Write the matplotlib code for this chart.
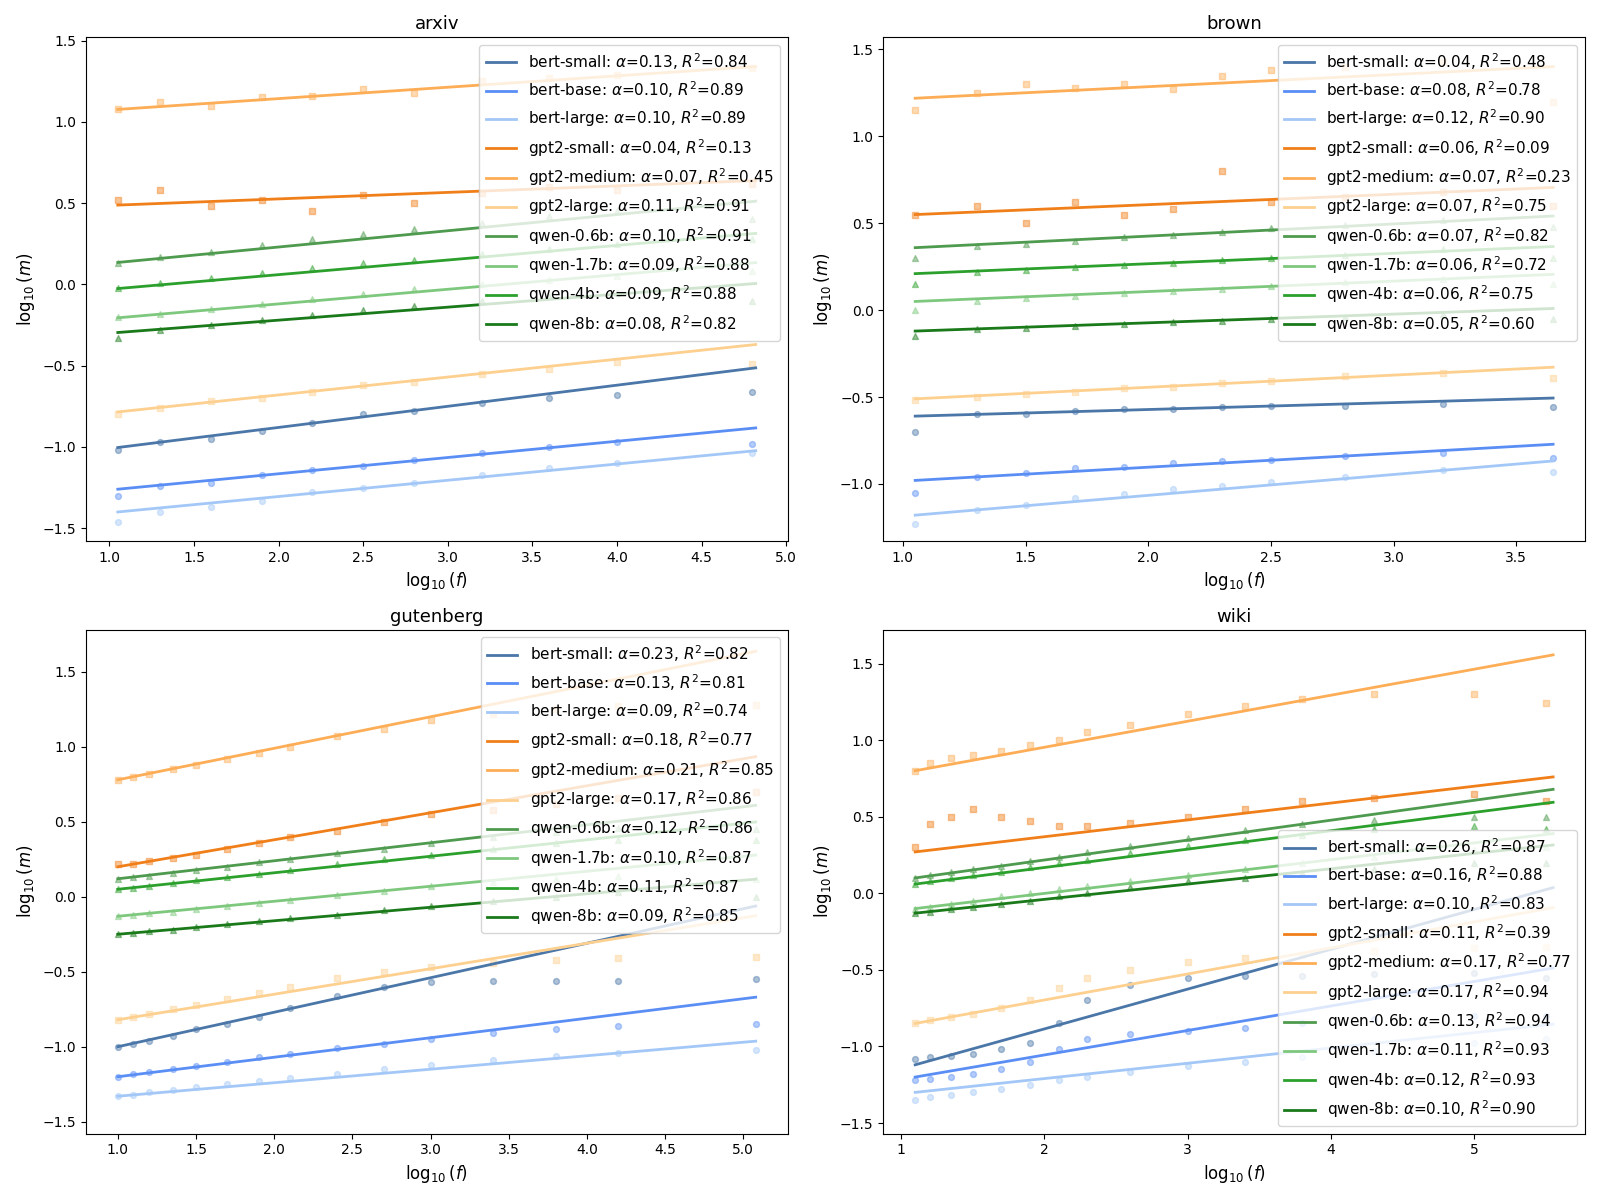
import numpy as np
import matplotlib.pyplot as plt

models = ["bert-small", "bert-base", "bert-large", "gpt2-small", "gpt2-medium",
          "gpt2-large", "qwen-0.6b", "qwen-1.7b", "qwen-4b", "qwen-8b"]
colors = ["#4a76a8", "#5a8ef5", "#a3c8f7", "#f07f1a", "#fdad56",
          "#fdd08f", "#4e9a4e", "#7ec87e", "#2ca02c", "#1a7a1a"]
markers = ["o"] * 3 + ["s"] * 3 + ["^"] * 4

# ---- arxiv
arxiv_x = [1.05, 1.3, 1.6, 1.9, 2.2, 2.5, 2.8, 3.2, 3.6, 4.0, 4.8]
arxiv_y = [
    [-1.02, -0.97, -0.95, -0.90, -0.85, -0.80, -0.78, -0.73, -0.70, -0.68, -0.66],
    [-1.30, -1.24, -1.22, -1.17, -1.14, -1.12, -1.08, -1.04, -1.00, -0.97, -0.98],
    [-1.46, -1.40, -1.37, -1.33, -1.28, -1.25, -1.22, -1.17, -1.13, -1.10, -1.04],
    [0.52, 0.58, 0.48, 0.52, 0.45, 0.55, 0.50, 0.56, 0.60, 0.58, 0.62],
    [1.08, 1.12, 1.10, 1.15, 1.16, 1.20, 1.18, 1.25, 1.27, 1.29, 1.33],
    [-0.80, -0.76, -0.72, -0.70, -0.66, -0.62, -0.60, -0.55, -0.52, -0.48, -0.49],
    [0.13, 0.17, 0.20, 0.24, 0.28, 0.31, 0.34, 0.38, 0.42, 0.45, 0.40],
    [-0.20, -0.18, -0.15, -0.12, -0.09, -0.06, -0.03, 0.00, 0.03, 0.05, 0.08],
    [-0.02, 0.01, 0.04, 0.07, 0.10, 0.13, 0.15, 0.19, 0.22, 0.25, 0.28],
    [-0.33, -0.28, -0.25, -0.22, -0.19, -0.16, -0.13, -0.10, -0.07, -0.05, -0.10],
]
arxiv_alpha = [0.13, 0.10, 0.10, 0.04, 0.07, 0.11, 0.10, 0.09, 0.09, 0.08]
arxiv_r2 = [0.84, 0.89, 0.89, 0.13, 0.45, 0.91, 0.91, 0.88, 0.88, 0.82]
arxiv_b = [-1.14, -1.365, -1.505, 0.446, 1.003, -0.90, 0.03, -0.30, -0.12, -0.38]
arxiv_range = [1.05, 4.82]

# ---- brown
brown_x = [1.05, 1.3, 1.5, 1.7, 1.9, 2.1, 2.3, 2.5, 2.8, 3.2, 3.65]
brown_y = [
    [-0.70, -0.60, -0.60, -0.58, -0.57, -0.57, -0.56, -0.55, -0.55, -0.54, -0.56],
    [-1.05, -0.96, -0.94, -0.91, -0.90, -0.88, -0.87, -0.86, -0.84, -0.82, -0.85],
    [-1.23, -1.15, -1.12, -1.08, -1.06, -1.03, -1.01, -0.99, -0.96, -0.92, -0.93],
    [0.55, 0.60, 0.50, 0.62, 0.55, 0.58, 0.80, 0.62, 0.65, 0.68, 0.60],
    [1.15, 1.25, 1.30, 1.28, 1.30, 1.27, 1.35, 1.38, 1.40, 1.43, 1.20],
    [-0.52, -0.50, -0.48, -0.47, -0.45, -0.44, -0.42, -0.41, -0.38, -0.36, -0.39],
    [0.30, 0.37, 0.38, 0.40, 0.42, 0.43, 0.45, 0.47, 0.49, 0.52, 0.48],
    [0.00, 0.05, 0.07, 0.08, 0.10, 0.11, 0.12, 0.14, 0.16, 0.18, 0.15],
    [0.15, 0.22, 0.23, 0.25, 0.26, 0.27, 0.29, 0.30, 0.32, 0.35, 0.30],
    [-0.15, -0.11, -0.10, -0.09, -0.08, -0.07, -0.06, -0.05, -0.04, -0.02, -0.05],
]
brown_alpha = [0.04, 0.08, 0.12, 0.06, 0.07, 0.07, 0.07, 0.06, 0.06, 0.05]
brown_r2 = [0.48, 0.78, 0.90, 0.09, 0.23, 0.75, 0.82, 0.72, 0.75, 0.60]
brown_b = [-0.652, -1.064, -1.306, 0.487, 1.146, -0.584, 0.286, -0.013, 0.147, -0.173]
brown_range = [1.05, 3.65]

# ---- gutenberg
gut_x = [1.0, 1.1, 1.2, 1.35, 1.5, 1.7, 1.9, 2.1, 2.4, 2.7, 3.0, 3.4, 3.8, 4.2, 5.08]
gut_y = [
    [-1.0, -0.98, -0.96, -0.93, -0.88, -0.85, -0.80, -0.74, -0.66, -0.60, -0.57, -0.56, -0.56, -0.56, -0.55],
    [-1.20, -1.18, -1.17, -1.15, -1.13, -1.10, -1.07, -1.05, -1.01, -0.98, -0.95, -0.91, -0.88, -0.86, -0.85],
    [-1.33, -1.32, -1.30, -1.29, -1.27, -1.25, -1.23, -1.21, -1.18, -1.15, -1.12, -1.09, -1.06, -1.04, -1.02],
    [0.22, 0.22, 0.24, 0.26, 0.28, 0.32, 0.36, 0.40, 0.44, 0.50, 0.55, 0.58, 0.62, 0.66, 0.70],
    [0.78, 0.80, 0.82, 0.85, 0.88, 0.92, 0.96, 1.00, 1.07, 1.12, 1.18, 1.22, 1.25, 1.27, 1.28],
    [-0.82, -0.80, -0.78, -0.75, -0.72, -0.68, -0.64, -0.60, -0.54, -0.50, -0.47, -0.44, -0.42, -0.41, -0.40],
    [0.12, 0.13, 0.14, 0.16, 0.18, 0.20, 0.23, 0.25, 0.29, 0.32, 0.36, 0.40, 0.43, 0.46, 0.45],
    [-0.13, -0.12, -0.11, -0.10, -0.08, -0.06, -0.04, -0.02, 0.01, 0.04, 0.07, 0.10, 0.12, 0.14, 0.12],
    [0.05, 0.06, 0.07, 0.09, 0.11, 0.13, 0.15, 0.18, 0.22, 0.25, 0.28, 0.32, 0.36, 0.38, 0.38],
    [-0.25, -0.24, -0.23, -0.22, -0.20, -0.18, -0.16, -0.14, -0.12, -0.09, -0.06, -0.03, 0.00, 0.03, 0.00],
]
gut_alpha = [0.23, 0.13, 0.09, 0.18, 0.21, 0.17, 0.12, 0.10, 0.11, 0.09]
gut_r2 = [0.82, 0.81, 0.74, 0.77, 0.85, 0.86, 0.86, 0.87, 0.87, 0.85]
gut_b = [-1.23, -1.33, -1.42, 0.02, 0.57, -0.99, 0.0, -0.23, -0.06, -0.34]
gut_range = [1.0, 5.08]

# ---- wiki
wiki_x = [1.1, 1.2, 1.35, 1.5, 1.7, 1.9, 2.1, 2.3, 2.6, 3.0, 3.4, 3.8, 4.3, 5.0, 5.5]
wiki_y = [
    [-1.08, -1.07, -1.06, -1.05, -1.02, -0.98, -0.85, -0.70, -0.60, -0.55, -0.54, -0.54, -0.53, -0.52, -0.55],
    [-1.22, -1.21, -1.20, -1.18, -1.15, -1.10, -1.02, -0.95, -0.92, -0.90, -0.88, -0.85, -0.82, -0.80, -0.80],
    [-1.35, -1.33, -1.32, -1.30, -1.28, -1.25, -1.22, -1.20, -1.17, -1.13, -1.10, -1.07, -1.03, -0.98, -0.95],
    [0.30, 0.45, 0.50, 0.55, 0.50, 0.47, 0.44, 0.44, 0.46, 0.50, 0.55, 0.60, 0.62, 0.65, 0.60],
    [0.80, 0.85, 0.88, 0.90, 0.93, 0.97, 1.00, 1.05, 1.10, 1.17, 1.22, 1.27, 1.30, 1.30, 1.24],
    [-0.85, -0.83, -0.81, -0.79, -0.75, -0.70, -0.62, -0.55, -0.50, -0.45, -0.42, -0.40, -0.38, -0.36, -0.35],
    [0.10, 0.12, 0.14, 0.16, 0.18, 0.21, 0.24, 0.27, 0.31, 0.36, 0.41, 0.45, 0.48, 0.50, 0.50],
    [-0.10, -0.09, -0.07, -0.05, -0.02, 0.00, 0.03, 0.05, 0.08, 0.12, 0.16, 0.20, 0.24, 0.28, 0.30],
    [0.06, 0.08, 0.10, 0.12, 0.14, 0.17, 0.20, 0.22, 0.26, 0.31, 0.35, 0.38, 0.42, 0.44, 0.42],
    [-0.13, -0.12, -0.10, -0.09, -0.07, -0.05, -0.02, 0.00, 0.04, 0.08, 0.10, 0.13, 0.16, 0.20, 0.20],
]
wiki_alpha = [0.26, 0.16, 0.10, 0.11, 0.17, 0.17, 0.13, 0.11, 0.12, 0.10]
wiki_r2 = [0.87, 0.88, 0.83, 0.39, 0.77, 0.94, 0.94, 0.93, 0.93, 0.90]
wiki_b = [-1.406, -1.376, -1.41, 0.149, 0.613, -1.037, -0.043, -0.221, -0.072, -0.24]
wiki_range = [1.1, 5.55]

panels = [
    ("arxiv", arxiv_x, arxiv_y, arxiv_alpha, arxiv_r2, arxiv_b, arxiv_range, "upper right", (-1.58, 1.52)),
    ("brown", brown_x, brown_y, brown_alpha, brown_r2, brown_b, brown_range, "upper right", (-1.33, 1.57)),
    ("gutenberg", gut_x, gut_y, gut_alpha, gut_r2, gut_b, gut_range, "upper right", (-1.58, 1.78)),
    ("wiki", wiki_x, wiki_y, wiki_alpha, wiki_r2, wiki_b, wiki_range, "lower right", (-1.57, 1.72)),
]

fig, axes = plt.subplots(2, 2, figsize=(16, 12), dpi=100)
for ax, (title, xs, ys, alphas, r2s, bs, xr, loc, ylim) in zip(axes.flat, panels):
    for i, m in enumerate(models):
        ax.scatter(xs, ys[i], color=colors[i], marker=markers[i], s=18, alpha=0.45)
        lx = np.array(xr)
        ax.plot(lx, bs[i] + alphas[i] * lx, color=colors[i], lw=2,
                label=f"{m}: $\\alpha$={alphas[i]:.2f}, $R^2$={r2s[i]:.2f}")
    ax.set_ylim(*ylim)
    ax.set_title(title, fontsize=13)
    ax.set_xlabel(r"$\log_{10}(f)$", fontsize=12)
    ax.set_ylabel(r"$\log_{10}(m)$", fontsize=12)
    ax.legend(loc=loc, fontsize=11)

plt.tight_layout()
plt.savefig("out.png")
